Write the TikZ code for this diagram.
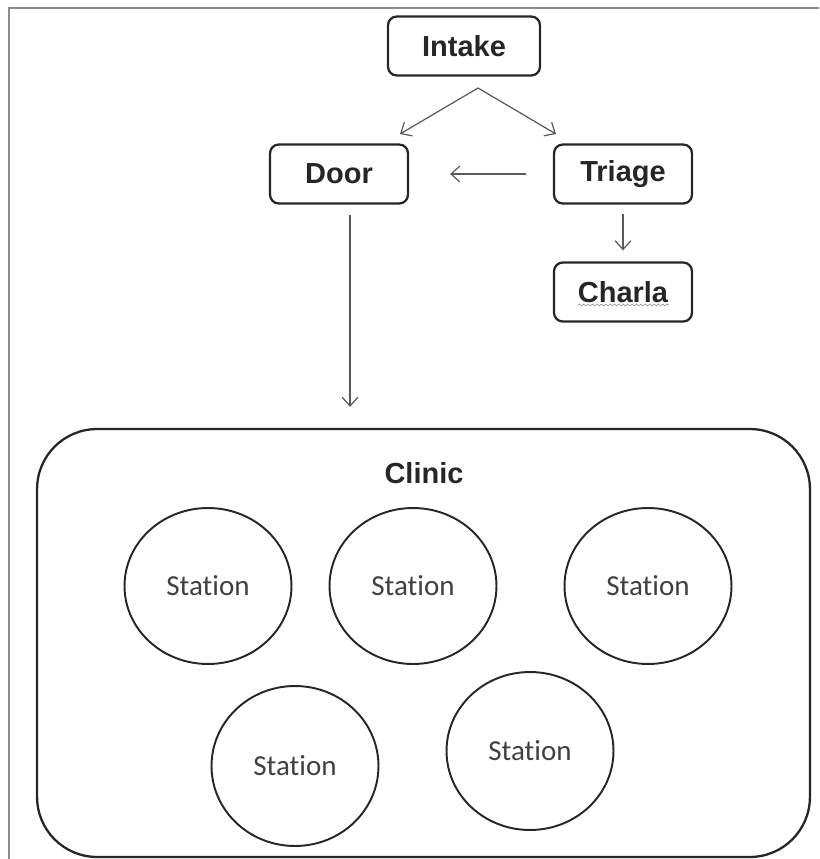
\documentclass[tikz,border=0pt]{standalone}
\usepackage{fontspec}
\setmainfont{Liberation Sans}
\newfontfamily\stationfont[Ligatures=NoCommon]{Carlito}
\usetikzlibrary{arrows.meta,positioning,shapes.geometric,decorations.pathmorphing}

\definecolor{framegray}{HTML}{8C8C8C}
\definecolor{linegray}{HTML}{5A5A5A}
\definecolor{boxline}{HTML}{262626}
\definecolor{stationtext}{HTML}{404040}

\begin{document}
\begin{tikzpicture}[x=0.02cm, y=-0.02cm,
  stage/.style={draw=boxline, line width=1.3pt, rounded corners=5pt, minimum width=2.76cm, minimum height=1.18cm, font=\fontsize{16.5}{20}\selectfont\bfseries, text=boxline},
  station/.style={ellipse, draw=boxline, line width=1.1pt, minimum width=3.34cm, minimum height=3.12cm, font=\stationfont\fontsize{16.5}{19}\selectfont, text=stationtext},
  arr/.style={draw=linegray, line width=0.7pt, -{Straight Barb[length=5pt,width=9pt]}}]
  \useasboundingbox (0,0) rectangle (819,859);

  % Page frame
  \draw[framegray, line width=1.2pt] (9,859) -- (9,8) -- (819,8);

  % Top boxes
  \node[stage, minimum width=3.04cm] (intake) at (464,46) {Intake};
  \node[stage] (door) at (339,174) {Door};
  \node[stage] (triage) at (623,174) {Triage};
  \node[stage] (charla) at (623,292) {Charla};
  \draw[decorate, decoration={snake, amplitude=0.5pt, segment length=2.5pt}, gray!80, line width=0.4pt] (578,305) -- (669,305);

  % Split below Intake
  \coordinate (split) at (478,88);
  \coordinate (doorin) at (400,134);
  \coordinate (triagein) at (556,134);
  \draw[arr] (split) -- (doorin);
  \draw[arr] (split) -- (triagein);
  \draw[arr, shorten <=0.54cm, shorten >=0.82cm] (triage) -- (door);
  \draw[arr, shorten <=0.18cm, shorten >=0.22cm] (triage) -- (charla);

  % Clinic
  \node[draw=boxline, line width=1.3pt, rounded corners=1.2cm, minimum width=15.46cm, minimum height=8.56cm] (clinic) at (423.5,643) {};
  \node[font=\fontsize{16.5}{20}\selectfont\bfseries, text=boxline] (cliniclabel) at (424,473) {Clinic};
  \draw[arr, shorten <=0.2cm, shorten >=0.42cm] ([xshift=0.22cm]door.south) -- ([xshift=0.22cm]door.south |- clinic.north);

  % Stations
  \node[station] (st1) at (208,586) {Station};
  \node[station] (st2) at (413,586) {Station};
  \node[station] (st3) at (648,586) {Station};
  \node[station, minimum height=3.2cm] (st4) at (295,766) {Station};
  \node[station, minimum height=3.16cm] (st5) at (530,751) {Station};
\end{tikzpicture}
\end{document}
